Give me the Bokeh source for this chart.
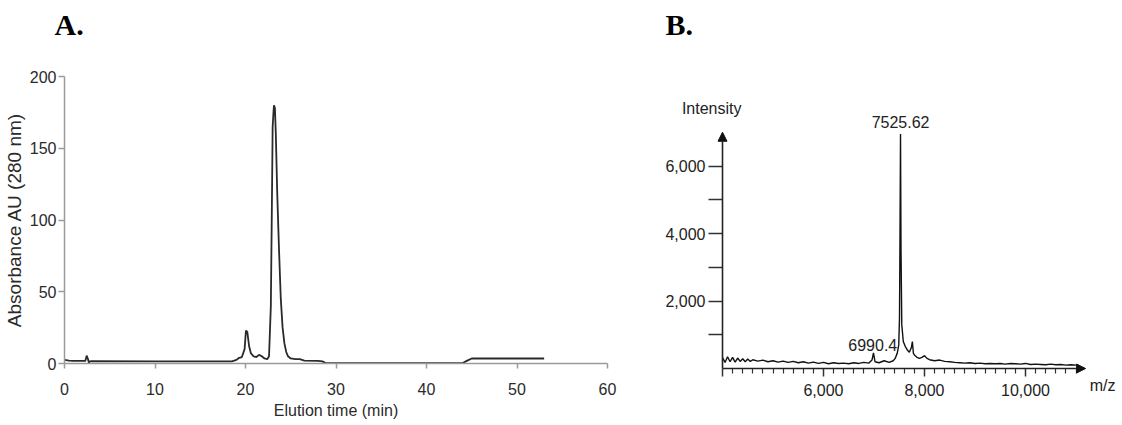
from bokeh.plotting import figure
from bokeh.layouts import row, column
from bokeh.models import Range1d, FixedTicker, Label, Arrow, NormalHead, LinearAxis
from bokeh.embed import file_html
from bokeh.resources import INLINE

# ---------------- Panel A: chromatogram ----------------
time_min = [0.0, 0.5, 1.0, 2.0, 2.3, 2.45, 2.6, 2.7, 2.8, 3.0, 10.0, 18.5, 19.0, 19.3, 19.6,
            19.9, 20.05, 20.2, 20.4, 20.6, 20.9, 21.2, 21.5, 21.8, 22.1, 22.4, 22.6, 22.8,
            22.9, 23.0, 23.1, 23.15, 23.25, 23.35, 23.5, 23.7, 23.9, 24.1, 24.3, 24.5, 24.7,
            25.0, 25.5, 26.0, 26.5, 28.0, 28.5, 28.8, 30.0, 44.0, 44.5, 45.0, 53.0]
absorbance = [2.5, 2.0, 1.8, 1.8, 1.8, 5.5, 3.0, 0.5, 1.5, 1.6, 1.5, 1.5, 2.5, 4.0, 4.5,
              10.0, 23.0, 22.0, 12.0, 7.0, 5.0, 4.5, 6.0, 5.0, 3.5, 3.0, 5.0, 40.0,
              100.0, 165.0, 176.0, 180.0, 178.0, 160.0, 120.0, 80.0, 45.0, 25.0, 14.0, 8.0, 5.0,
              3.5, 3.0, 3.0, 2.0, 1.8, 1.5, 0.5, 0.3, 0.3, 2.0, 3.5, 3.5]
a_xticks = [0, 10, 20, 30, 40, 50, 60]
a_yticks = [0, 50, 100, 150, 200]

# ---------------- Panel B: mass spectrum ----------------
mz = [4000, 4050, 4100, 4150, 4200, 4250, 4300, 4350, 4400, 4450, 4500, 4550, 4600, 4700,
      4800, 4900, 5000, 5100, 5200, 5300, 5400, 5500, 5600, 5700, 5800, 5900, 6000, 6100,
      6200, 6300, 6400, 6500, 6600, 6700, 6800, 6900, 6960, 6990, 7020, 7100, 7200, 7300,
      7380, 7420, 7460, 7490, 7505, 7515, 7525, 7535, 7550, 7580, 7620, 7660, 7700, 7740,
      7760, 7780, 7800, 7850, 7900, 7950, 8000, 8050, 8100, 8200, 8300, 8400, 8500, 8600,
      8700, 8800, 8900, 9000, 9100, 9200, 9300, 9400, 9500, 9600, 9700, 9800, 9900, 10000,
      10100, 10200, 10300, 10400, 10500, 10600, 10700, 10800, 10900, 11000]
intensity = [320, 180, 350, 200, 330, 190, 310, 210, 290, 200, 280, 210, 260, 220,
             250, 200, 230, 190, 220, 180, 210, 170, 200, 160, 190, 150, 180, 140,
             170, 150, 160, 140, 170, 150, 180, 160, 250, 460, 200, 170, 230, 180,
             230, 300, 450, 700, 1500, 4000, 6950, 3500, 1300, 800, 650, 550, 480, 620,
             800, 450, 400, 330, 300, 330, 380, 300, 260, 230, 250, 210, 200, 180,
             170, 160, 170, 150, 160, 140, 150, 140, 150, 130, 150, 140, 130, 150,
             120, 130, 120, 110, 130, 110, 120, 100, 110, 100]
b_xticks = [4000, 6000, 8000, 10000]
b_xminor = [4200, 4400, 4600, 4800, 5000, 5200, 5400, 5600, 5800, 6200, 6400, 6600, 6800,
            7000, 7200, 7400, 7600, 7800, 8200, 8400, 8600, 8800, 9000, 9200, 9400, 9600,
            9800, 10200, 10400, 10600, 10800, 11000]
b_yticks = [1000, 2000, 3000, 4000, 5000, 6000]
b_ylabels = {1000: "", 2000: "2,000", 3000: "", 4000: "4,000", 5000: "", 6000: "6,000"}
b_xlabels = {4000: "", 6000: "6,000", 8000: "8,000", 10000: "10,000"}
x_title_at = 11525      # where "m/z" sits along the x axis
y_title_at = 7700       # where "Intensity" sits along the y axis
x_axis_end = 11190      # arrow tip of the m/z axis
y_axis_end = 7000       # arrow tip of the intensity axis
peak_main = (7525.62, 6950)
peak_minor = (6990.4, 460)

FONT = "Liberation Sans"
A_GREY = "#9a9a9a"
A_LEFT = 62
A_FRAME_W = 543
A_FRAME_H = 287
W_A = A_LEFT + A_FRAME_W + 12
W_B = 1114 - W_A
H_HEAD = 44
TOP = 32               # same top border for both panels
A_BOTTOM = 59
H_ROW = TOP + A_FRAME_H + A_BOTTOM

# ---------------- header with panel letters ----------------
header = figure(title=None, width=W_A + W_B, height=H_HEAD,
                x_range=Range1d(0, W_A + W_B), y_range=Range1d(0, H_HEAD),
                min_border=0, output_backend="svg", toolbar_location=None,
                x_axis_location=None, y_axis_location=None)
header.outline_line_color = None
header.grid.visible = False
for txt, xpos in (("A.", 54), ("B.", 665)):
    header.add_layout(Label(x=xpos, y=20, text=txt, text_font="Liberation Serif",
                            text_font_style="bold", text_font_size="30px",
                            text_color="#000000", text_baseline="alphabetic"))

# ---------------- Figure A ----------------
pA = figure(title=None, frame_width=A_FRAME_W, frame_height=A_FRAME_H,
            x_range=Range1d(0, 60), y_range=Range1d(0, 200),
            output_backend="svg", toolbar_location=None,
            min_border_left=A_LEFT, min_border_right=W_A - A_LEFT - A_FRAME_W, min_border_top=TOP,
            min_border_bottom=A_BOTTOM)
pA.grid.visible = False
pA.outline_line_color = None
pA.line(time_min, absorbance, line_color="#2a2a2a", line_width=1.8)

for ax in (pA.xaxis[0], pA.yaxis[0]):
    ax.axis_line_color = A_GREY
    ax.axis_line_width = 1.5
    ax.major_tick_line_color = A_GREY
    ax.major_tick_line_width = 1.5
    ax.minor_tick_line_color = None
    ax.minor_tick_out = 0
    ax.major_tick_in = 0
    ax.major_label_text_font = FONT
    ax.major_label_text_font_size = "16px"
    ax.major_label_text_color = "#2a2a2a"
    ax.axis_label_text_font = FONT
    ax.axis_label_text_font_style = "normal"
    ax.axis_label_text_color = "#2a2a2a"
pA.xaxis.ticker = FixedTicker(ticks=a_xticks)
pA.yaxis.ticker = FixedTicker(ticks=a_yticks)
pA.xaxis.major_tick_out = 5
pA.yaxis.major_tick_out = 6
pA.xaxis.major_label_standoff = 14
pA.yaxis.major_label_standoff = 2
pA.xaxis.axis_label = "Elution time (min)"
pA.yaxis.axis_label = "Absorbance AU (280 nm)"
pA.xaxis.axis_label_text_font_size = "16px"
pA.yaxis.axis_label_text_font_size = "19px"
pA.xaxis.axis_label_standoff = 4
pA.yaxis.axis_label_standoff = 2

# ---------------- Figure B ----------------
PX_PER_UNIT_Y = 67.5 / 2000.0
PX_PER_UNIT_X = 50.5 / 1000.0
B_LEFT = 97
b_frame_w = W_B - B_LEFT
b_frame_h = 297
b_x0 = b_xticks[0] - 6 / PX_PER_UNIT_X      # frame starts 6 px left of the y axis arrow
b_y0 = -5 / PX_PER_UNIT_Y                    # and 5 px below the x axis arrow
pB = figure(title=None, frame_width=b_frame_w, frame_height=b_frame_h,
            x_range=Range1d(b_x0, b_x0 + b_frame_w / PX_PER_UNIT_X),
            y_range=Range1d(b_y0, b_y0 + b_frame_h / PX_PER_UNIT_Y),
            output_backend="svg", toolbar_location=None,
            min_border_left=B_LEFT, min_border_right=0, min_border_top=TOP,
            min_border_bottom=H_ROW - TOP - b_frame_h)
pB.grid.visible = False
pB.outline_line_color = None
pB.line(mz, intensity, line_color="#111111", line_width=1.4)

B_AX = "#333333"
# y axis: ticks (reaching the arrow line) and numbers
yax = pB.yaxis[0]
yax.ticker = FixedTicker(ticks=b_yticks)
yax.major_label_overrides = b_ylabels
yax.axis_line_color = None
yax.major_tick_line_color = B_AX
yax.major_tick_line_width = 1.5
yax.major_tick_in = 6
yax.major_tick_out = 8
yax.minor_tick_line_color = None
yax.minor_tick_in = 0
yax.minor_tick_out = 0
yax.major_label_standoff = 3
yax.major_label_text_font = FONT
yax.major_label_text_font_size = "16px"
yax.major_label_text_color = "#222222"

# "Intensity" at the top of the y axis (outer left panel, pulled back toward the axis)
yt = LinearAxis(ticker=FixedTicker(ticks=[y_title_at]),
                major_label_overrides={y_title_at: "Intensity"},
                axis_line_color=None, major_tick_line_color=None, minor_tick_line_color=None,
                major_tick_out=0, major_tick_in=0, minor_tick_out=0, minor_tick_in=0,
                major_label_standoff=-79, major_label_text_font=FONT,
                major_label_text_font_size="16px", major_label_text_color="#222222")
pB.add_layout(yt, "left")

# x axis: long ticks, small ticks and numbers
xax = pB.xaxis[0]
xax.ticker = FixedTicker(ticks=b_xticks, minor_ticks=b_xminor)
xax.major_label_overrides = b_xlabels
xax.axis_line_color = None
xax.major_tick_line_color = B_AX
xax.major_tick_line_width = 1.5
xax.major_tick_in = 5
xax.major_tick_out = 3
xax.minor_tick_line_color = B_AX
xax.minor_tick_line_width = 1.2
xax.minor_tick_in = 5
xax.minor_tick_out = 0
xax.major_label_standoff = 7
xax.major_label_text_font = FONT
xax.major_label_text_font_size = "16px"
xax.major_label_text_color = "#222222"

# "m/z" at the end of the x axis (outer bottom panel, pulled back up)
xt = LinearAxis(ticker=FixedTicker(ticks=[x_title_at]),
                major_label_overrides={x_title_at: "m/z"},
                axis_line_color=None, major_tick_line_color=None, minor_tick_line_color=None,
                major_tick_out=0, major_tick_in=0, minor_tick_out=0, minor_tick_in=0,
                major_label_standoff=-22, major_label_text_font=FONT,
                major_label_text_font_size="16px", major_label_text_color="#222222")
pB.add_layout(xt, "below")

head = dict(size=9, fill_color="#111111", line_color="#111111")
pB.add_layout(Arrow(end=NormalHead(**head), x_start=b_xticks[0], y_start=0, x_end=x_axis_end, y_end=0,
                    line_color="#222222", line_width=1.6))
pB.add_layout(Arrow(end=NormalHead(**head), x_start=b_xticks[0], y_start=0, x_end=b_xticks[0], y_end=y_axis_end,
                    line_color="#222222", line_width=1.6))

lab_kw = dict(text_font=FONT, text_font_size="16px", text_color="#222222")
pB.add_layout(Label(x=peak_main[0], y=peak_main[1], y_offset=12, text="7525.62",
                    text_align="center", text_baseline="middle", **lab_kw))
pB.add_layout(Label(x=peak_minor[0] + 470, y=peak_minor[1] + 240, text="6990.4",
                    text_align="right", text_baseline="middle", **lab_kw))

layout = column(header, row(pA, pB))
open("out.html", "w").write(file_html(layout, INLINE))
